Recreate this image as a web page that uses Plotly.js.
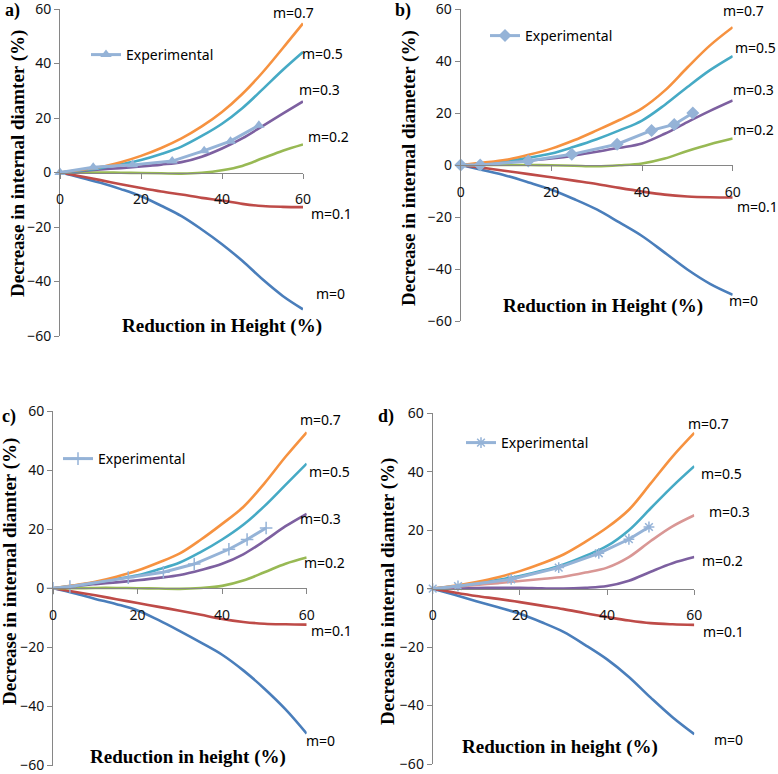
<!DOCTYPE html>
<html>
<head>
<meta charset="utf-8">
<script src="https://cdn.plot.ly/plotly-3.0.1.min.js"></script>
<style>html,body{margin:0;padding:0;background:#fff;}#chart{width:778px;height:774px;}</style>
</head>
<body>
<div id="chart"></div>
<script>
// ---------- DATA ----------
const reduction = [0, 5, 10, 15, 20, 25, 30, 35, 40, 45, 50, 55, 60];
const seriesNames = ['m=0', 'm=0.1', 'm=0.2', 'm=0.3', 'm=0.5', 'm=0.7'];
const xTicks = [0, 20, 40, 60];
const yTicks = [-60, -40, -20, 0, 20, 40, 60];

// panel a
const a_m0  = [0, -1.8, -3.8, -6.1, -8.7, -12.2, -16.0, -20.9, -26.3, -32.4, -39.2, -45.3, -50.2];
const a_m01 = [0, -1.4, -2.8, -4.3, -5.7, -7.0, -8.1, -9.3, -10.3, -11.5, -12.3, -12.6, -12.7];
const a_m02 = [0, 0.0, 0.0, -0.1, -0.2, -0.3, -0.4, -0.1, 0.8, 2.4, 5.2, 8.0, 10.3];
const a_m03 = [0, 0.5, 1.1, 1.6, 2.2, 2.9, 3.8, 5.8, 8.8, 12.5, 17.0, 21.6, 26.1];
const a_m05 = [0, 0.7, 1.6, 3.0, 4.6, 6.8, 9.5, 13.4, 17.9, 23.6, 30.5, 37.6, 44.2];
const a_m07 = [0, 0.9, 2.0, 3.8, 6.1, 9.0, 12.5, 16.9, 22.2, 28.8, 36.7, 45.6, 54.7];
const a_expX = [0, 8.2, 17.9, 27.7, 35.6, 42.1, 49.1];
const a_expY = [0, 1.9, 2.8, 4.2, 8.0, 11.5, 17.3];

// panel b
const b_m0  = [0, -2.0, -4.1, -6.7, -9.5, -13.1, -17.1, -22.1, -27.3, -33.7, -40.2, -45.7, -49.9];
const b_m01 = [0, -1.1, -2.3, -3.5, -4.7, -6.0, -7.3, -8.8, -10.2, -11.4, -12.1, -12.4, -12.5];
const b_m02 = [0, 0.0, 0.0, 0.0, -0.1, -0.3, -0.5, -0.1, 0.6, 2.5, 5.4, 8.0, 10.2];
const b_m03 = [0, 0.5, 1.1, 1.7, 2.5, 3.6, 5.1, 6.6, 8.3, 12.0, 16.5, 20.8, 24.8];
const b_m05 = [0, 0.6, 1.5, 2.8, 4.4, 7.0, 9.9, 13.3, 17.1, 23.1, 30.0, 36.5, 41.9];
const b_m07 = [0, 0.9, 2.0, 3.9, 6.3, 9.5, 13.3, 17.3, 21.8, 28.6, 37.5, 46.0, 53.0];
const b_expX = [0, 4.3, 14.9, 24.5, 34.5, 42.1, 47.1, 51.2];
const b_expY = [0, 0.0, 1.5, 4.1, 8.0, 13.3, 15.6, 20.0];

// panel c
const c_m0  = [0, -1.7, -3.6, -5.4, -7.5, -10.8, -14.5, -18.4, -22.5, -27.8, -34.0, -41.0, -49.2];
const c_m01 = [0, -1.2, -2.4, -3.7, -5.0, -6.3, -7.6, -9.0, -10.4, -11.4, -12.0, -12.2, -12.3];
const c_m02 = [0, 0.0, 0.1, 0.1, 0.0, -0.1, -0.2, 0.1, 0.8, 2.6, 5.4, 8.3, 10.4];
const c_m03 = [0, 0.7, 1.4, 2.0, 2.7, 3.5, 4.5, 6.2, 8.3, 11.5, 16.0, 21.0, 25.2];
const c_m05 = [0, 0.9, 1.9, 3.1, 4.4, 6.4, 8.7, 12.3, 16.5, 21.5, 27.8, 35.0, 42.2];
const c_m07 = [0, 1.0, 2.2, 3.9, 6.0, 8.7, 11.8, 16.5, 21.8, 27.5, 35.5, 44.5, 52.8];
const c_expX = [0, 4.0, 17.8, 26.1, 33.4, 41.6, 45.9, 50.4];
const c_expY = [0, 0.6, 3.6, 5.4, 8.2, 13.2, 16.5, 20.4];

// panel d
const d_m0  = [0, -2.1, -4.3, -6.4, -8.6, -11.5, -14.8, -19.3, -24.2, -30.2, -37.3, -44.0, -49.8];
const d_m01 = [0, -1.3, -2.5, -3.5, -4.6, -5.8, -7.0, -8.4, -9.7, -10.9, -11.8, -12.2, -12.4];
const d_m02 = [0, 0.1, 0.2, 0.3, 0.3, 0.1, 0.0, 0.3, 0.9, 2.7, 5.8, 8.7, 10.8];
const d_m03 = [0, 0.6, 1.3, 1.9, 2.6, 3.3, 4.1, 5.5, 7.2, 10.8, 16.3, 21.3, 25.1];
const d_m05 = [0, 0.8, 1.8, 3.0, 4.3, 6.1, 8.3, 11.2, 14.6, 20.0, 27.5, 35.0, 41.9];
const d_m07 = [0, 1.0, 2.3, 3.9, 6.0, 8.6, 11.7, 16.0, 20.9, 27.0, 36.0, 45.2, 53.3];
const d_expX = [0, 5.8, 18.0, 28.9, 38.1, 45.0, 49.6];
const d_expY = [0, 0.9, 3.2, 7.2, 12.1, 16.9, 21.1];

// ---------- STYLE / LAYOUT ----------
const W = 778, H = 774;
const fx = p => p / W;
const fy = p => 1 - p / H;
const SANS = 'Noto Sans, Liberation Sans, sans-serif';
const SERIF = 'Liberation Serif, Times New Roman, serif';
const AXC = '#868686';
const EXPC = '#95B3D7';

const colorsStd = ['#4A7EBB', '#BE4B48', '#98B954', '#7D60A0', '#46AAC5', '#F69240'];
const colorsD   = ['#4A7EBB', '#BE4B48', '#7D60A0', '#D99795', '#46AAC5', '#F69240'];

const panels = [
  {id: '',  box: [60, 303, 9, 336],     series: [a_m0, a_m01, a_m02, a_m03, a_m05, a_m07], ex: a_expX, ey: a_expY,
   colors: colorsStd, sym: 'triangle-up', symSize: 10, symLine: 0, legend: 'legend', legPos: [86, 55]},
  {id: '2', box: [460.7, 732.7, 9, 321], series: [b_m0, b_m01, b_m02, b_m03, b_m05, b_m07], ex: b_expX, ey: b_expY,
   colors: colorsStd, sym: 'diamond', symSize: 10, symLine: 0, legend: 'legend2', legPos: [485, 36]},
  {id: '3', box: [53, 306.7, 411, 765.5], series: [c_m0, c_m01, c_m02, c_m03, c_m05, c_m07], ex: c_expX, ey: c_expY,
   colors: colorsStd, sym: 'cross-thin-open', symSize: 9, symLine: 1.5, legend: 'legend3', legPos: [58, 459]},
  {id: '4', box: [432.7, 694.3, 413.3, 764], series: [d_m0, d_m01, d_m02, d_m03, d_m05, d_m07], ex: d_expX, ey: d_expY,
   colors: colorsD, sym: 'asterisk-open', symSize: 9, symLine: 1.5, legend: 'legend4', legPos: [461, 443]}
];

const traces = [];
const layout = {
  width: W, height: H,
  margin: {l: 0, r: 0, t: 0, b: 0},
  paper_bgcolor: '#fff', plot_bgcolor: '#fff',
  showlegend: true,
  font: {family: SANS, size: 14, color: '#000'},
  annotations: []
};

panels.forEach(p => {
  const xa = 'x' + p.id, ya = 'y' + p.id;
  p.series.forEach((vals, i) => {
    traces.push({
      x: reduction, y: vals, xaxis: xa, yaxis: ya, type: 'scatter', mode: 'lines',
      name: seriesNames[i], showlegend: false, hoverinfo: 'skip',
      line: {color: p.colors[i], width: 2.6, shape: 'spline', smoothing: 1}
    });
  });
  traces.push({
    x: p.ex, y: p.ey, xaxis: xa, yaxis: ya, type: 'scatter', mode: 'lines+markers',
    name: 'Experimental', legend: p.legend, showlegend: true, cliponaxis: false,
    line: {color: EXPC, width: 3},
    marker: {symbol: p.sym, size: p.symSize, color: EXPC, line: {color: EXPC, width: p.symLine}}
  });
  const [x0, x1, y0, y1] = p.box;
  const ydom = [fy(y1), fy(y0)];
  layout['xaxis' + p.id] = {
    domain: [fx(x0), fx(x1)], range: [0, 60], anchor: 'free', position: (ydom[0] + ydom[1]) / 2,
    tickvals: xTicks, ticks: 'outside', ticklen: 5, tickcolor: AXC, tickwidth: 1,
    showline: true, linecolor: AXC, linewidth: 1, showgrid: false, zeroline: false,
    ticklabelstandoff: 9, ticklabeloverflow: 'allow',
    tickfont: {family: SANS, size: 14, color: '#111'}, fixedrange: true
  };
  layout['yaxis' + p.id] = {
    domain: ydom, range: [-60, 60], anchor: 'x' + p.id,
    tickvals: yTicks, ticks: 'outside', ticklen: 5, tickcolor: AXC, tickwidth: 1,
    showline: true, linecolor: AXC, linewidth: 1, showgrid: false, zeroline: false,
    ticklabeloverflow: 'allow',
    tickfont: {family: SANS, size: 14, color: '#111'}, fixedrange: true
  };
  layout[p.legend] = {
    x: fx(p.legPos[0]), y: fy(p.legPos[1]), xanchor: 'left', yanchor: 'middle',
    bgcolor: 'rgba(0,0,0,0)', borderwidth: 0, font: {family: SANS, size: 14, color: '#000'},
    itemwidth: 30, tracegroupgap: 0
  };
});

// curve labels (pixel positions)
const labelPos = [
  [[330, 293.3], [331, 213], [328.3, 136.7], [319.3, 89.3], [322, 53.3], [293, 12]],
  [[743.3, 300], [757, 206], [753.3, 129.3], [753.3, 89.3], [755, 47.7], [743.3, 11]],
  [[320, 740], [331, 630], [324, 562.7], [320, 518.3], [329, 471], [320, 419.3]],
  [[728, 739.3], [723, 631], [722.7, 560], [729.3, 511.7], [721.7, 473.3], [708.3, 423.3]]
];
labelPos.forEach(list => list.forEach((pos, i) => {
  layout.annotations.push({xref: 'paper', yref: 'paper', x: fx(pos[0]), y: fy(pos[1]),
    xanchor: 'center', yanchor: 'middle', showarrow: false, text: seriesNames[i],
    font: {family: SANS, size: 14, color: '#000'}});
}));

// titles
const titleFont = {family: SERIF, size: 19, color: '#000'};
const xTitles = [
  ['Reduction in Height (%)', 221.7, 326],
  ['Reduction in Height (%)', 603, 306],
  ['Reduction in height (%)', 188, 757],
  ['Reduction in height (%)', 560, 747]
];
xTitles.forEach(t => layout.annotations.push({xref: 'paper', yref: 'paper', x: fx(t[1]), y: fy(t[2]),
  xanchor: 'center', yanchor: 'middle', showarrow: false, text: '<b>' + t[0] + '</b>', font: titleFont}));
const yTitles = [
  ['Decrease in internal diamter (%)', 18, 164],
  ['Decrease in internal diameter (%)', 409, 168],
  ['Decrease in internal diamter (%)', 10, 572],
  ['Decrease in internal diamter (%)', 388, 592]
];
yTitles.forEach(t => layout.annotations.push({xref: 'paper', yref: 'paper', x: fx(t[1]), y: fy(t[2]),
  xanchor: 'center', yanchor: 'middle', showarrow: false, textangle: -90, text: '<b>' + t[0] + '</b>', font: titleFont}));
const panelLabels = [['a)', 13, 11], ['b)', 403, 11], ['c)', 9, 417], ['d)', 386, 417]];
panelLabels.forEach(t => layout.annotations.push({xref: 'paper', yref: 'paper', x: fx(t[1]), y: fy(t[2]),
  xanchor: 'center', yanchor: 'middle', showarrow: false, text: '<b>' + t[0] + '</b>', font: {family: SERIF, size: 18, color: '#000'}}));

Plotly.newPlot('chart', traces, layout, {displayModeBar: false, staticPlot: true});
</script>
</body>
</html>
